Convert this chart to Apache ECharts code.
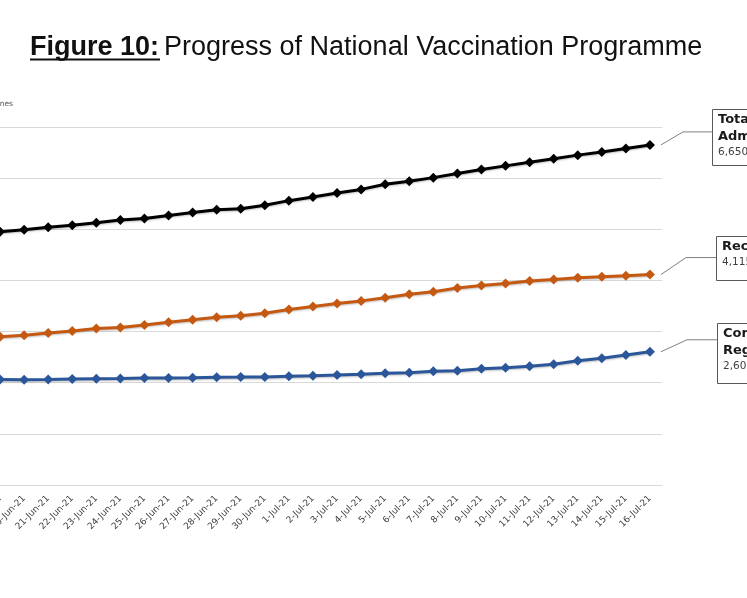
<!DOCTYPE html>
<html lang="en">
<head>
    <meta charset="UTF-8">
    <title>Progress of National Vaccination Programme</title>
    <script type="text/javascript" src="https://cdn.jsdelivr.net/npm/echarts@6/dist/echarts.min.js"></script>
    <style>
        html, body { margin: 0; padding: 0; background: #fff; }
    </style>
</head>
<body>
<div id="main" style="width: 747px;height:598px;"></div>
<script type="text/javascript">
    // 日期 (x轴)
    var dates = ['19-Jun-21', '20-Jun-21', '21-Jun-21', '22-Jun-21', '23-Jun-21', '24-Jun-21', '25-Jun-21',
        '26-Jun-21', '27-Jun-21', '28-Jun-21', '29-Jun-21', '30-Jun-21', '1-Jul-21', '2-Jul-21', '3-Jul-21',
        '4-Jul-21', '5-Jul-21', '6-Jul-21', '7-Jul-21', '8-Jul-21', '9-Jul-21', '10-Jul-21', '11-Jul-21',
        '12-Jul-21', '13-Jul-21', '14-Jul-21', '15-Jul-21', '16-Jul-21'];

    // 数值, 单位: 百万剂
    var totalDoses = [4.95, 4.99, 5.04, 5.08, 5.13, 5.18, 5.21, 5.27, 5.33, 5.38, 5.40, 5.47, 5.56, 5.63,
        5.71, 5.78, 5.88, 5.94, 6.01, 6.09, 6.17, 6.24, 6.31, 6.38, 6.45, 6.51, 6.58, 6.65];
    var firstDose = [2.90, 2.93, 2.97, 3.01, 3.06, 3.08, 3.13, 3.18, 3.23, 3.28, 3.31, 3.36, 3.43, 3.49,
        3.55, 3.60, 3.66, 3.73, 3.78, 3.85, 3.90, 3.94, 3.99, 4.02, 4.05, 4.07, 4.09, 4.115];
    var fullRegimen = [2.065, 2.058, 2.062, 2.075, 2.078, 2.08, 2.09, 2.093, 2.095, 2.108, 2.11, 2.114, 2.126,
        2.137, 2.15, 2.165, 2.183, 2.196, 2.222, 2.235, 2.272, 2.294, 2.32, 2.36, 2.43, 2.478, 2.54, 2.605];

    var yTicks = [0, 1, 2, 3, 4, 5, 6, 7];

    var seriesNames = ['Total Doses Administered', 'Received at least First Dose', 'Completed Full Regimen'];
    var colors = ['#000000', '#C65911', '#2B579A'];

    var myChart = echarts.init(document.getElementById('main'));

    function makeSeries(name, data, color) {
        return {
            name: name,
            type: 'line',
            data: data,
            symbol: 'diamond',
            symbolSize: 10,
            lineStyle: {width: 3, color: color, shadowColor: 'rgba(0,0,0,0.25)', shadowBlur: 2, shadowOffsetY: 1},
            itemStyle: {color: color},
            z: 3
        };
    }

    var option = {
        animation: false,
        title: {
            text: '{a|Figure 10:} {b|Progress of National Vaccination Programme}',
            left: 25,
            top: 29,
            textStyle: {
                rich: {
                    a: {fontFamily: 'Liberation Sans', fontWeight: 'bold', fontSize: 27, color: '#111'},
                    b: {fontFamily: 'Liberation Sans', fontWeight: 'normal', fontSize: 27, color: '#111'}
                }
            }
        },
        // 图表左边被裁掉, 所以 left 为负数
        grid: {left: -12, right: 85, top: 127, bottom: 113, outerBoundsMode: 'none', containLabel: false},
        xAxis: {
            type: 'category',
            data: dates,
            boundaryGap: true,
            axisLine: {lineStyle: {color: '#D9D9D9', width: 1.2}},
            axisTick: {length: 5, lineStyle: {color: '#D9D9D9'}},
            axisLabel: {
                rotate: 45,
                interval: 0,
                margin: 12,
                fontFamily: 'DejaVu Sans',
                fontSize: 9,
                color: '#404040'
            }
        },
        yAxis: {
            type: 'value',
            min: yTicks[0],
            max: yTicks[yTicks.length - 1],
            interval: 1,
            axisLine: {show: false},
            axisTick: {show: false},
            axisLabel: {show: false},
            splitLine: {lineStyle: {color: '#D9D9D9', width: 1.2}}
        },
        series: [
            makeSeries(seriesNames[0], totalDoses, colors[0]),
            makeSeries(seriesNames[1], firstDose, colors[1]),
            makeSeries(seriesNames[2], fullRegimen, colors[2])
        ]
    };
    myChart.setOption(option);

    /**
     * 右侧的注释框 (连到最后一个点)
     */
    function fmt(v) {
        return Math.round(v * 1000000).toString().replace(/\B(?=(\d{3})+(?!\d))/g, ',');
    }

    var last = dates.length - 1;
    var boxes = [
        {lines: ['Total Doses', 'Administered'], value: totalDoses[last], boxX: 712, boxY: 109, boxH: 56, elbowX: 683, dy: -13},
        {lines: ['Received at least First Dose'], value: firstDose[last], boxX: 716, boxY: 236, boxH: 44, elbowX: 686, dy: -17},
        {lines: ['Completed Full', 'Regimen'], value: fullRegimen[last], boxX: 717, boxY: 323, boxH: 60, elbowX: 687, dy: -12}
    ];
    var graphics = [];
    for (var i = 0; i < boxes.length; i++) {
        var b = boxes[i];
        var p = myChart.convertToPixel({seriesIndex: i}, [last, b.value]);
        var sx = p[0] + 11, sy = p[1];
        var ey = sy + b.dy;
        graphics.push({
            type: 'polyline',
            shape: {points: [[sx, sy], [b.elbowX, ey], [b.boxX, ey]]},
            style: {stroke: '#7F7F7F', lineWidth: 1, fill: null}
        });
        graphics.push({
            type: 'rect',
            shape: {x: b.boxX + 0.5, y: b.boxY + 0.5, width: 160, height: b.boxH},
            style: {stroke: '#595959', lineWidth: 1, fill: '#fff'}
        });
        var ty = b.boxY + 4;
        for (var j = 0; j < b.lines.length; j++) {
            graphics.push({
                type: 'text',
                x: b.boxX + 6,
                y: ty,
                style: {text: b.lines[j], fontFamily: 'DejaVu Sans', fontWeight: 'bold', fontSize: 13, fill: '#1a1a1a'}
            });
            ty += 17;
        }
        graphics.push({
            type: 'text',
            x: b.boxX + 6,
            y: ty,
            style: {text: fmt(b.value), fontFamily: 'DejaVu Sans', fontSize: 10.5, fill: '#404040'}
        });
    }
    // 左上角y轴名称 (被截掉的部分)
    graphics.push({
        type: 'text',
        x: 13,
        y: 100,
        style: {text: 'Doses of Vaccines', align: 'right', fontFamily: 'DejaVu Sans', fontSize: 7.5, fill: '#595959'}
    });
    // 下划线 "Figure 10:"
    graphics.push({
        type: 'line',
        shape: {x1: 30, y1: 59.5, x2: 160, y2: 59.5},
        style: {stroke: '#111', lineWidth: 2}
    });
    myChart.setOption({graphic: graphics});
</script>
</body>
</html>
